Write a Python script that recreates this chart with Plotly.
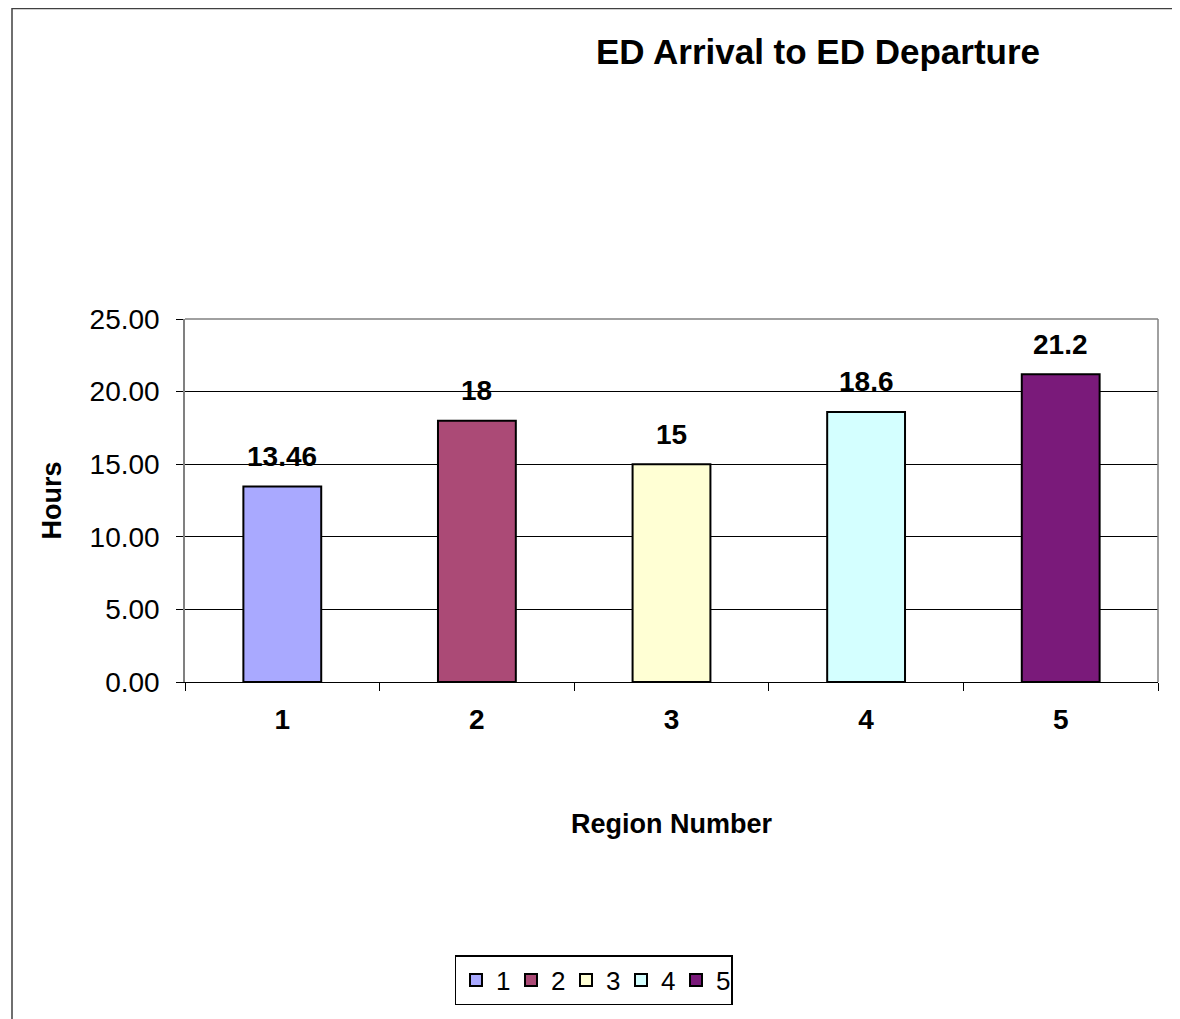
import plotly.graph_objects as go

regions = ["1", "2", "3", "4", "5"]
hours = [13.46, 18, 15, 18.6, 21.2]
labels = ["13.46", "18", "15", "18.6", "21.2"]
colors = ["#A9A9FF", "#AB4A76", "#FFFFD4", "#D4FFFF", "#7A1A7A"]
yticks = [0, 5, 10, 15, 20, 25]
yticklabels = ["0.00", "5.00", "10.00", "15.00", "20.00", "25.00"]

FONT = "Liberation Sans, Arial, sans-serif"

# page offset (body margin) compensation
W, H = 1172, 1011
L, R, T, B = 177, 22, 311, 337
PW = W - L - R
PH = H - T - B

fig = go.Figure()
for r, h, c in zip(regions, hours, colors):
    fig.add_trace(go.Bar(
        x=[r], y=[h], name=r,
        marker=dict(color=c, line=dict(color="black", width=2)),
        width=0.4,
    ))

for i, (h, t) in enumerate(zip(hours, labels)):
    fig.add_annotation(x=i, y=h, text="<b>%s</b>" % t, showarrow=False,
                       yshift=30, yanchor="middle",
                       font=dict(family=FONT, size=28, color="black"))

fig.update_layout(
    width=W, height=H,
    margin=dict(l=L, r=R, t=T, b=B),
    paper_bgcolor="white", plot_bgcolor="white",
    barmode="overlay",
    font=dict(family=FONT, color="black"),
    title=dict(text="<b>ED Arrival to ED Departure</b>", x=810 / W, xanchor="center",
               y=1 - 44 / H, yanchor="middle",
               font=dict(family=FONT, size=35, color="black")),
    showlegend=True,
    legend=dict(orientation="h", x=(585.5 - L) / PW, xanchor="center",
                y=(674 - 972) / PH, yanchor="middle",
                bordercolor="black", borderwidth=1.5,
                font=dict(family=FONT, size=26, color="black"),
                entrywidth=10, itemwidth=30, tracegroupgap=0),
    xaxis=dict(type="category", categoryorder="array", categoryarray=regions,
               range=[-0.5, 4.5],
               tickson="boundaries", ticks="outside", ticklen=8, tickcolor="black",
               ticklabelstandoff=12,
               showline=True, linecolor="black", linewidth=1,
               showgrid=False, zeroline=False,
               tickfont=dict(family=FONT, size=28, color="black"),
               tickvals=regions, ticktext=["<b>%s</b>" % r for r in regions],
               title=dict(text="<b>Region Number</b>", standoff=80,
                          font=dict(family=FONT, size=27, color="black"))),
    yaxis=dict(range=[0, 25], tickvals=yticks, ticktext=yticklabels,
               ticks="outside", ticklen=7, tickcolor="black",
               ticklabelstandoff=11,
               showline=True, linecolor="#808080", linewidth=1.5,
               showgrid=True, gridcolor="black", gridwidth=1,
               zeroline=False,
               tickfont=dict(family=FONT, size=28, color="black"),
               title=dict(text="<b>Hours</b>", standoff=20,
                          font=dict(family=FONT, size=27, color="black"))),
)

# plot area border (gray) top and right
fig.add_shape(type="line", xref="x domain", yref="y domain", x0=0, x1=1, y0=1, y1=1,
              line=dict(color="#808080", width=1.5))
fig.add_shape(type="line", xref="x domain", yref="y domain", x0=1, x1=1, y0=0, y1=1,
              line=dict(color="#808080", width=1.5))
# outer chart border
fig.add_shape(type="rect", xref="paper", yref="paper",
              x0=(4 - L) / PW, x1=(1167 - L) / PW,
              y0=(674 - 1040) / PH, y1=(674 - 0.5) / PH,
              line=dict(color="#404040", width=1.5), fillcolor="rgba(0,0,0,0)", layer="below")

fig.write_html("out.html")
